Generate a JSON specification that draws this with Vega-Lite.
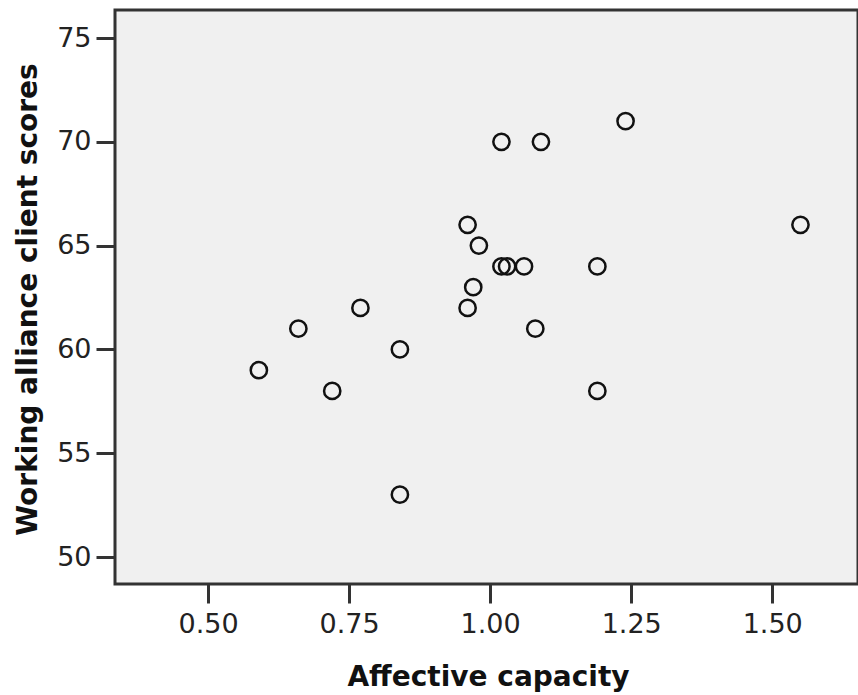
{
  "$schema": "https://vega.github.io/schema/vega-lite/v6.json",
  "width": 743,
  "height": 574,
  "autosize": {"type": "none"},
  "padding": {"left": 115, "top": 10, "right": 0, "bottom": 111},
  "background": "#ffffff",
  "config": {
    "view": {"fill": "#f0f0f0", "stroke": "#333333", "strokeWidth": 3},
    "axis": {
      "domain": false,
      "grid": false,
      "tickColor": "#333333",
      "tickWidth": 3,
      "tickSize": 19,
      "labelFont": "DejaVu Sans",
      "labelFontSize": 27,
      "labelColor": "#222222",
      "titleFont": "DejaVu Sans",
      "titleFontSize": 28,
      "titleFontWeight": "bold",
      "titleColor": "#111111"
    }
  },
  "data": {
    "values": [
      {"affective": 0.59, "alliance": 59},
      {"affective": 0.66, "alliance": 61},
      {"affective": 0.72, "alliance": 58},
      {"affective": 0.77, "alliance": 62},
      {"affective": 0.84, "alliance": 60},
      {"affective": 0.84, "alliance": 53},
      {"affective": 0.96, "alliance": 66},
      {"affective": 0.98, "alliance": 65},
      {"affective": 0.97, "alliance": 63},
      {"affective": 0.96, "alliance": 62},
      {"affective": 1.02, "alliance": 64},
      {"affective": 1.03, "alliance": 64},
      {"affective": 1.06, "alliance": 64},
      {"affective": 1.02, "alliance": 70},
      {"affective": 1.09, "alliance": 70},
      {"affective": 1.24, "alliance": 71},
      {"affective": 1.19, "alliance": 64},
      {"affective": 1.08, "alliance": 61},
      {"affective": 1.19, "alliance": 58},
      {"affective": 1.55, "alliance": 66}
    ]
  },
  "mark": {"type": "point", "shape": "circle", "filled": false, "stroke": "#111111", "strokeWidth": 2.5, "size": 265, "opacity": 1},
  "encoding": {
    "x": {
      "field": "affective",
      "type": "quantitative",
      "title": "Affective capacity",
      "scale": {"domain": [0.335, 1.652], "nice": false, "zero": false},
      "axis": {
        "values": [0.5, 0.75, 1.0, 1.25, 1.5],
        "format": ".2f",
        "labelPadding": 8,
        "titleX": 373,
        "titleY": 101,
        "titleBaseline": "alphabetic",
        "titleAnchor": null
      }
    },
    "y": {
      "field": "alliance",
      "type": "quantitative",
      "title": "Working alliance client scores",
      "scale": {"domain": [48.7, 76.35], "nice": false, "zero": false},
      "axis": {
        "values": [50, 55, 60, 65, 70, 75],
        "labelPadding": 5,
        "titleX": -87,
        "titleY": 289,
        "titleAngle": -90,
        "titleAlign": "center",
        "titleBaseline": "middle"
      }
    }
  }
}
